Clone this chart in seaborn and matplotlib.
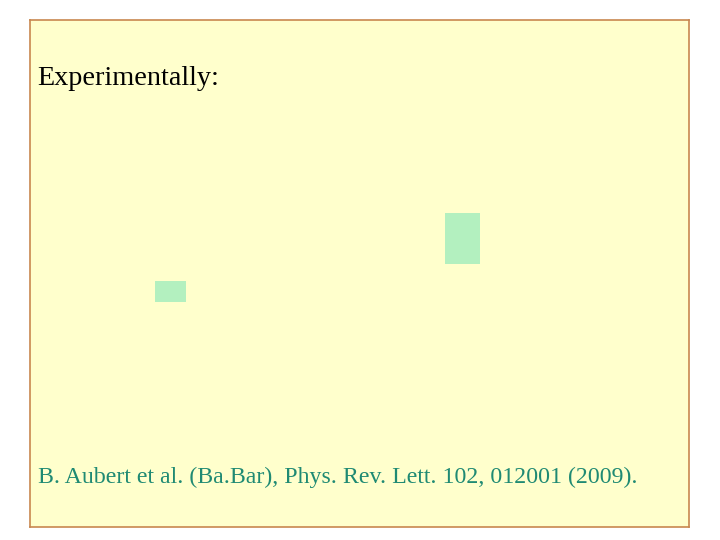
import numpy as np
import pandas as pd
import matplotlib.pyplot as plt
import seaborn as sns

# panel content (pixel offsets inside the yellow panel)
box_names = ["left", "right"]
box_left = [125, 415]
box_width = [31, 35]
box_top = [261, 193]
box_height = [21, 51]

title_text = "Experimentally:"
cite_text = "B. Aubert et al. (Ba.Bar), Phys. Rev. Lett. 102, 012001 (2009)."

panel_w, panel_h = 659, 507

sns.set_style("white")
plt.rcParams["font.family"] = ["Liberation Serif", "DejaVu Serif"]

df = pd.DataFrame({"name": box_names, "left": box_left, "width": box_width,
                   "top": box_top, "height": box_height})

fig = plt.figure(figsize=(7.2, 5.4), dpi=100)
fig.patch.set_facecolor("white")
ax = fig.add_axes([30 / 720, 13 / 540, panel_w / 720, panel_h / 540])
ax.set_facecolor("#FFFFCC")
for s in ax.spines.values():
    s.set_visible(True)
    s.set_color("#C8874F")
    s.set_linewidth(1.2)

ax.bar(df["left"], df["height"], width=df["width"], bottom=df["top"],
       align="edge", color="#B3F0BF", edgecolor="none")

ax.set_xlim(0, panel_w)
ax.set_ylim(panel_h, 0)
ax.set_xticks([])
ax.set_yticks([])

ax.text(7, 65, title_text, fontsize=20.3, color="black", va="baseline", ha="left")
ax.text(8, 463, cite_text, fontsize=17.2, color="#1F8A73", va="baseline", ha="left")

plt.savefig("out.png", dpi=100)
plt.close()
